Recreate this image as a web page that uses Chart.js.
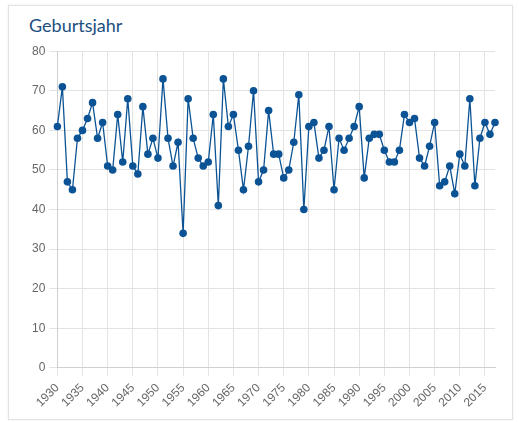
<!DOCTYPE html>
<html>
<head>
<meta charset="utf-8">
<script src="https://cdn.jsdelivr.net/npm/chart.js@4/dist/chart.umd.min.js"></script>
<style>
  html, body { margin: 0; padding: 0; background: #fff; }
  body { width: 519px; height: 422px; position: relative; overflow: hidden; }
  .card {
    position: absolute; left: 8px; top: 5px; width: 503px; height: 413px;
    border: 1px solid #e2e2e2; box-shadow: 0 0 2px rgba(0,0,0,0.08);
  }
  .title {
    position: absolute; left: 29px; top: 14px;
    font-family: Lato, "Open Sans", sans-serif; font-size: 18px;
    color: #1d4f7f;
  }
  .chart-wrap { position: absolute; left: 8px; top: 40px; width: 505px; height: 378px; }
</style>
</head>
<body>
<div class="card"></div>
<div class="title">Geburtsjahr</div>
<div class="chart-wrap"><canvas id="birthChart"></canvas></div>
<script>
// Geburtsjahr - one point per year
const years = [];
for (let y = 1930; y <= 2017; y++) years.push(String(y));

const values = [
  61, 71, 47, 45, 58, 60, 63, 67, 58, 62,   // 1930-1939
  51, 50, 64, 52, 68, 51, 49, 66, 54, 58,   // 1940-1949
  53, 73, 58, 51, 57, 34, 68, 58, 53, 51,   // 1950-1959
  52, 64, 41, 73, 61, 64, 55, 45, 56, 70,   // 1960-1969
  47, 50, 65, 54, 54, 48, 50, 57, 69, 40,   // 1970-1979
  61, 62, 53, 55, 61, 45, 58, 55, 58, 61,   // 1980-1989
  66, 48, 58, 59, 59, 55, 52, 52, 55, 64,   // 1990-1999
  62, 63, 53, 51, 56, 62, 46, 47, 51, 44,   // 2000-2009
  54, 51, 68, 46, 58, 62, 59, 62            // 2010-2017
];

const yTicks = [0, 10, 20, 30, 40, 50, 60, 70, 80];

const lineColor = '#0b5394';
const gridColor = '#e3e3e3';
const tickFont = { family: '"Liberation Sans", Arial, sans-serif', size: 12 };

const ctx = document.getElementById('birthChart').getContext('2d');
const birthChart = new Chart(ctx, {
  type: 'line',
  data: {
    labels: years,
    datasets: [{
      label: 'Geburtsjahr',
      data: values,
      borderColor: lineColor,
      backgroundColor: lineColor,
      borderWidth: 1.3,
      pointRadius: 3.8,
      pointHoverRadius: 4,
      pointBorderWidth: 0,
      tension: 0,
      fill: false
    }]
  },
  options: {
    responsive: true,
    maintainAspectRatio: false,
    animation: false,
    layout: { padding: { left: 20, right: 18, top: 5, bottom: 3 } },
    plugins: {
      legend: { display: false },
      tooltip: { enabled: false }
    },
    scales: {
      x: {
        type: 'category',
        ticks: {
          autoSkip: false,
          maxRotation: 45,
          minRotation: 45,
          color: '#666',
          font: tickFont,
          padding: 5,
          callback: function (val, i) {
            const lbl = this.getLabelForValue(val);
            return Number(lbl) % 5 === 0 ? lbl : '';
          }
        },
        grid: {
          color: c => (c.tick && Number(years[c.index]) % 5 === 0) ? gridColor : 'transparent',
          tickLength: 8
        },
        border: { color: '#cfcfcf' }
      },
      y: {
        min: 0,
        max: 80,
        afterBuildTicks: axis => { axis.ticks = yTicks.map(v => ({ value: v })); },
        ticks: { color: '#666', font: tickFont, padding: 4 },
        grid: { color: gridColor, tickLength: 8 },
        border: { color: '#cfcfcf' }
      }
    }
  }
});
</script>
</body>
</html>
